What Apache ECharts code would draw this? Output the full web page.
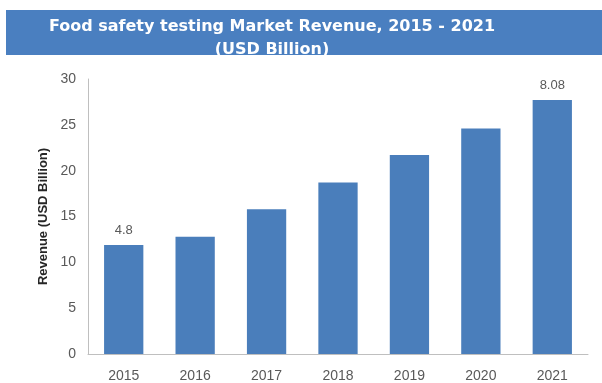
<!DOCTYPE html>
<html>
<head>
<meta charset="utf-8">
<script src="https://cdn.jsdelivr.net/npm/echarts@6/dist/echarts.min.js"></script>
<style>
  html, body { margin: 0; padding: 0; background: #ffffff; }
  #chart { width: 602px; height: 383px; }
</style>
</head>
<body>
<div id="chart"></div>
<script>
// Food safety testing market revenue by year
const years = ['2015', '2016', '2017', '2018', '2019', '2020', '2021'];
const revenue = [11.9, 12.8, 15.8, 18.7, 21.7, 24.6, 27.7];
// Annotations printed above the first and last bars
const barNotes = ['4.8', '', '', '', '', '', '8.08'];
const yTicks = [0, 5, 10, 15, 20, 25, 30];

const chart = echarts.init(document.getElementById('chart'), null, { renderer: 'canvas' });

chart.setOption({
  animation: false,
  backgroundColor: '#ffffff',
  graphic: [
    {
      type: 'rect',
      left: 6, top: 10,
      shape: { width: 596, height: 45 },
      style: { fill: '#4a7fc0' },
      z: 0
    }
  ],
  title: {
    text: 'Food safety testing Market Revenue, 2015 - 2021\n(USD Billion)',
    left: 267,
    top: 10,
    textAlign: 'center',
    textStyle: {
      color: '#ffffff',
      fontFamily: 'DejaVu Sans',
      fontWeight: 'bold',
      fontSize: 16,
      lineHeight: 23
    },
    z: 5
  },
  grid: { left: 88, right: 14, top: 79, bottom: 29, containLabel: false },
  xAxis: {
    type: 'category',
    data: years,
    axisLine: { show: true, lineStyle: { color: '#bfbfbf', width: 1 } },
    axisTick: { show: false },
    axisLabel: {
      color: '#595959',
      fontFamily: 'Liberation Sans',
      fontSize: 14,
      margin: 15
    }
  },
  yAxis: {
    type: 'value',
    min: yTicks[0],
    max: yTicks[yTicks.length - 1],
    interval: yTicks[1] - yTicks[0],
    name: 'Revenue (USD Billion)',
    nameLocation: 'middle',
    nameRotate: 90,
    nameGap: 38,
    nameTextStyle: {
      color: '#262626',
      fontFamily: 'Liberation Sans',
      fontWeight: 'bold',
      fontSize: 13
    },
    axisLine: { show: true, lineStyle: { color: '#bfbfbf', width: 1 } },
    axisTick: { show: false },
    splitLine: { show: false },
    axisLabel: {
      color: '#595959',
      fontFamily: 'Liberation Sans',
      fontSize: 14,
      margin: 12
    }
  },
  series: [
    {
      type: 'bar',
      data: revenue,
      barWidth: '55%',
      itemStyle: { color: '#4a7ebb' },
      label: {
        show: true,
        position: 'top',
        distance: 8,
        color: '#595959',
        fontFamily: 'Liberation Sans',
        fontSize: 13,
        formatter: p => barNotes[p.dataIndex]
      }
    }
  ]
});
</script>
</body>
</html>
